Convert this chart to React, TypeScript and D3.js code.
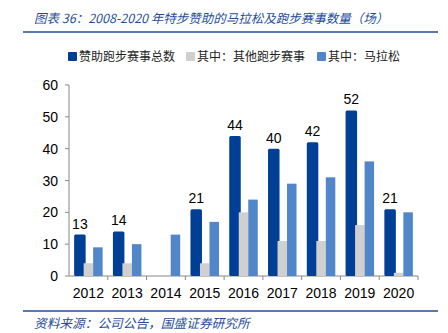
import React from "react";
import * as d3 from "d3";

const years = ["2012","2013","2014","2015","2016","2017","2018","2019","2020"];
const totals = [13,14,0,21,44,40,42,52,21];
const others = [4,4,0,4,20,11,11,16,1];
const marathons = [9,10,13,17,24,29,31,36,20];
const yTicks = [0,10,20,30,40,50,60];
const legendLabels = ["赞助跑步赛事总数","其中：其他跑步赛事","其中：马拉松"];
const colors = ["#003f96","#d0d0d0","#5186c8"];

export default function App() {
  const W = 448, H = 333;
  const left = 69, right = 418, top = 85, bottom = 276;
  const x = d3.scaleBand<string>().domain(years).range([left, right]).padding(0);
  const y = d3.scaleLinear().domain([0, 60]).range([bottom, top]);
  const bw = 9.5;
  const font = "'Liberation Sans', Arial, sans-serif";
  const cjk = "'Noto Sans CJK SC', sans-serif";
  const series = [totals, others, marathons];
  return (
    <svg width={W} height={H} style={{ position: "absolute", left: 0, top: 0, background: "#fff" }}>
      <text x={34} y={23} fontFamily={cjk} fontSize={12.5} fontStyle="italic" fill="#1f4e9c">
        图表 36：2008-2020 年特步赞助的马拉松及跑步赛事数量（场）
      </text>
      <line x1={23} x2={438} y1={32} y2={32} stroke="#1f4e9c" strokeWidth={1.5} />
      {legendLabels.map((l, i) => {
        const lx = [68, 186, 317][i];
        return (
          <g key={l}>
            <rect x={lx} y={52} width={9} height={9} fill={colors[i]} rx={1} />
            <text x={lx + 11} y={61} fontFamily={cjk} fontSize={12} fill="#222">{l}</text>
          </g>
        );
      })}
      <line x1={left} x2={left} y1={top} y2={bottom} stroke="#888" />
      <line x1={left} x2={right} y1={bottom} y2={bottom} stroke="#888" />
      {years.map((yr, i) => i > 0 ? (
        <line key={"t" + yr} x1={x(yr)!} x2={x(yr)!} y1={bottom} y2={bottom + 4} stroke="#888" />
      ) : null)}
      <line x1={right} x2={right} y1={bottom} y2={bottom + 4} stroke="#888" />
      {yTicks.map(t => (
        <g key={"y" + t}>
          <line x1={left - 4} x2={left} y1={y(t)} y2={y(t)} stroke="#888" />
          <text x={58} y={y(t) + 5} textAnchor="end" fontFamily={font} fontSize={14} fill="#000">{t}</text>
        </g>
      ))}
      {years.map((yr, i) => {
        const cx = x(yr)! + x.bandwidth() / 2;
        return (
          <g key={yr}>
            {series.map((s, k) => s[i] > 0 ? (
              <rect key={k} x={cx - 1.5 * bw + k * bw} y={y(s[i])} width={k === 0 ? bw + 2 : bw}
                height={bottom - y(s[i])} fill={colors[k]} rx={k === 0 ? 1.5 : 0} />
            ) : null)}
            {totals[i] > 0 && (
              <text x={cx - bw + 1} y={y(totals[i]) - 6} textAnchor="middle" fontFamily={font} fontSize={14} fill="#000">{totals[i]}</text>
            )}
            <text x={cx} y={298} textAnchor="middle" fontFamily={font} fontSize={14} fill="#000">{yr}</text>
          </g>
        );
      })}
      <line x1={23} x2={438} y1={311} y2={311} stroke="#1f4e9c" strokeWidth={1.5} />
      <text x={34} y={328} fontFamily={cjk} fontSize={12.7} fontStyle="italic" fill="#1f4e9c">资料来源：公司公告，国盛证券研究所</text>
    </svg>
  );
}
